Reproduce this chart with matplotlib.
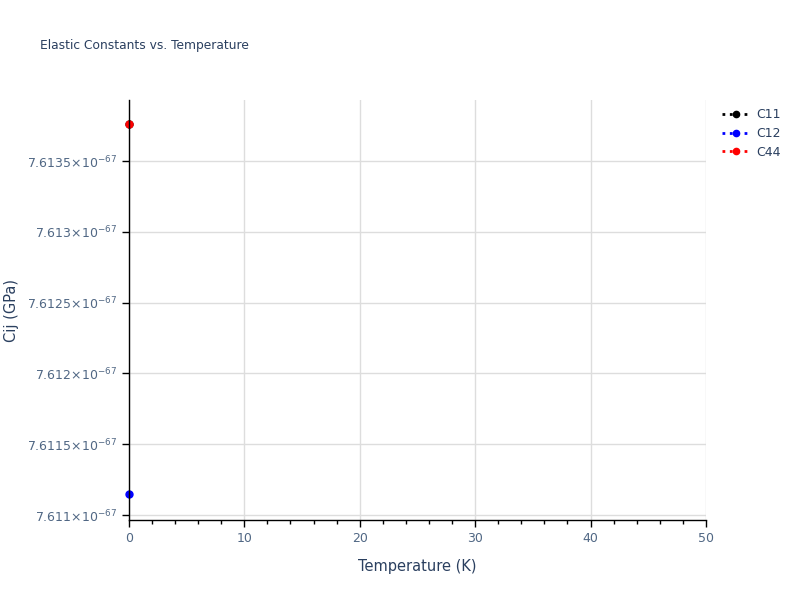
import matplotlib
matplotlib.use('Agg')
import matplotlib.pyplot as plt
from matplotlib.ticker import FixedLocator, MultipleLocator, FuncFormatter
import numpy as np

# data (GPa), single temperature point
temperature = [0.0]
c11 = [7.613761e-67]
c12 = [7.611148e-67]
c44 = [7.613761e-67]

series = [('C11', c11, 'black'), ('C12', c12, 'blue'), ('C44', c44, 'red')]

text_col = '#2a3f5f'
tick_col = '#506784'

fig = plt.figure(figsize=(8, 6), dpi=100)
ax = fig.add_axes([0.161, 0.1333, 0.7215, 0.7])

for name, vals, col in series:
    ax.plot(temperature, vals, linestyle=':', linewidth=2, marker='o', markersize=5,
            color=col, label=name, clip_on=False, zorder=2)

ax.set_xlim(0, 50)
ax.set_ylim(7.610965e-67, 7.613931e-67)

ax.xaxis.set_major_locator(MultipleLocator(10))
ax.xaxis.set_minor_locator(MultipleLocator(2))
yticks = [7.611e-67, 7.6115e-67, 7.612e-67, 7.6125e-67, 7.613e-67, 7.6135e-67]
ax.yaxis.set_major_locator(FixedLocator(yticks))

def yfmt(v, pos):
    m = v / 1e-67
    s = ('%.4f' % m).rstrip('0').rstrip('.')
    return s + r'$\times10^{-67}$'

ax.yaxis.set_major_formatter(FuncFormatter(yfmt))

ax.grid(True, color='#dddddd', linewidth=1, zorder=0)
ax.set_axisbelow(True)
for side in ['top', 'right']:
    ax.spines[side].set_visible(False)
for side in ['left', 'bottom']:
    ax.spines[side].set_color('black')
    ax.spines[side].set_linewidth(1)
    ax.spines[side].set_zorder(3)

ax.tick_params(axis='both', which='major', direction='out', length=5, width=1,
               color='black', labelcolor=tick_col, labelsize=9)
ax.tick_params(axis='x', which='minor', direction='out', length=3, width=1, color='black')

ax.set_xlabel('Temperature (K)', fontsize=10.5, color=text_col, labelpad=10)
ax.set_ylabel('Cij (GPa)', fontsize=10.5, color=text_col, labelpad=6)

fig.text(0.05, 0.925, 'Elastic Constants vs. Temperature', fontsize=8.8,
         color=text_col, va='center', ha='left')

leg = fig.legend(loc='upper left', bbox_to_anchor=(0.889, 0.838), frameon=False,
                 fontsize=9, handlelength=2.2, labelspacing=0.45, handletextpad=0.5,
                 markerscale=0.9)
for t in leg.get_texts():
    t.set_color(text_col)

fig.savefig('out.png', dpi=100)
